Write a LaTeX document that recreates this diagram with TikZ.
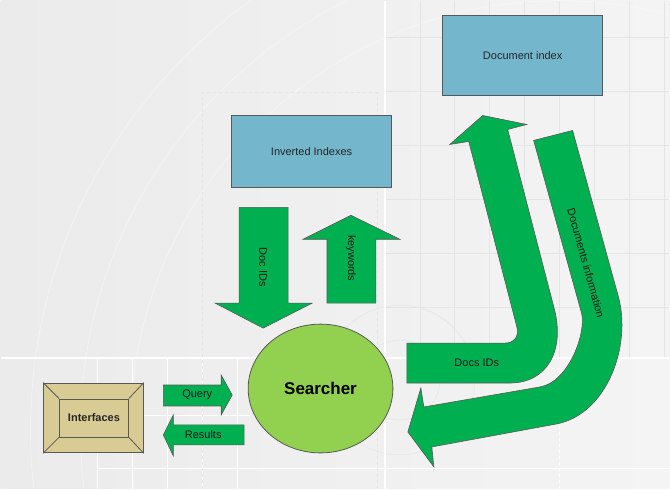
\documentclass[tikz,border=0pt]{standalone}
\usepackage{fontspec}
\setmainfont{Liberation Sans}
\usetikzlibrary{shapes}
\definecolor{boxblue}{RGB}{116,182,204}
\definecolor{flowgreen}{RGB}{0,176,80}
\definecolor{searchgreen}{RGB}{146,208,80}
\definecolor{sand}{RGB}{217,203,148}
\definecolor{edgegray}{RGB}{88,88,88}
\definecolor{bgleft}{RGB}{235,235,235}
\definecolor{bgright}{RGB}{244,244,244}
\definecolor{gridgray}{RGB}{229,229,229}
\newcommand{\txt}{\fontsize{11}{13}\selectfont}
\tikzset{
  store/.style={draw=edgegray, line width=0.9pt, fill=boxblue, font=\txt, text=black!85},
  flow/.style={draw=edgegray, line width=0.6pt, fill=flowgreen},
  flowlabel/.style={font=\txt, text=black!90, inner sep=0pt},
  bevel/.style={draw=edgegray, line width=0.8pt, fill=sand}
}

\begin{document}
\begin{tikzpicture}[x=1pt, y=-1pt]
		% Background
		\shade[left color=bgleft, right color=bgright] (0,0) rectangle (670,489);
		\begin{scope}
			\clip (0,0) rectangle (670,489);
			\foreach \r in {430,480,530}
				\draw[white, opacity=0.5, line width=0.5pt] (560,430) circle (\r);
			\foreach \r in {40,75}
				\draw[gridgray, line width=0.5pt] (400,380) circle (\r);
		\end{scope}
		\foreach \x in {420,455,...,665}
			\draw[gridgray, line width=0.6pt] (\x,0) -- (\x,358);
		\foreach \y in {37,91,145,199,253,307}
			\draw[gridgray, line width=0.6pt] (385,\y) -- (670,\y);
		\draw[white, line width=1.4pt] (385,0) -- (385,489);
		\draw[white, line width=1.2pt] (0,358) -- (670,358);
		\foreach \x in {97,132,167,202,237}
			\draw[white, line width=1pt] (\x,358) -- (\x,489);
		\draw[white, line width=1pt] (97,469) -- (670,469);
		\draw[white, line width=1pt] (143,416) -- (250,416);
		\draw[gridgray, dashed, line width=0.7pt] (202,489) -- (202,92) -- (377,92) -- (377,489);
		\draw[white, dashed, line width=1pt] (420,368) -- (560,368) -- (560,489);

		% Define nodes
		\node[store, minimum width=160, minimum height=80] (docindex) at (523,55) {Document index};
		\node[store, minimum width=161, minimum height=72] (inverted) at (311.5,151) {Inverted Indexes};
		\node[ellipse, draw=edgegray, line width=0.8pt, fill=searchgreen, minimum width=145, minimum height=129,
			font=\fontsize{17}{20}\selectfont\bfseries] (searcher) at (320.5,388.5) {Searcher};
		\node[bevel, minimum width=100, minimum height=70] (iface) at (93,418) {};
		\node[bevel, minimum width=69, minimum height=38, font=\txt\bfseries, text=black!85] (ifacein) at (93.5,418) {Interfaces};

		% Connect the nodes
		\draw[edgegray, line width=0.8pt] (iface.north west) -- (ifacein.north west);
		\draw[edgegray, line width=0.8pt] (iface.north east) -- (ifacein.north east);
		\draw[edgegray, line width=0.8pt] (iface.south west) -- (ifacein.south west);
		\draw[edgegray, line width=0.8pt] (iface.south east) -- (ifacein.south east);

		\draw[flow] (239,207) -- (288,207) -- (288,303) -- (312,303) -- (263,328) -- (215,303) -- (239,303) -- cycle;
		\draw[flow] (327,303) -- (376,303) -- (376,239) -- (400,239) -- (351,215) -- (303,239) -- (327,239) -- cycle;
		\draw[flow] (163,385) -- (221,385) -- (221,375) -- (232,395) -- (221,415) -- (221,406) -- (163,406) -- cycle;
		\draw[flow] (244,425) -- (173,425) -- (173,415) -- (163,435) -- (173,456) -- (173,445) -- (244,445) -- cycle;
		\draw[flow] (407,343) -- (505,343) .. controls (514,343) and (520,337) .. (517,326) -- (469,141)
			-- (450,144) -- (483,115) -- (527,124) -- (508,129) -- (555,310)
			.. controls (565,350) and (548,383) .. (510,383) -- (407,383) -- cycle;
		\draw[flow] (534,140) -- (573,130) -- (619,297) .. controls (632,345) and (608,414) .. (557,424)
			-- (432,447) -- (434,467) -- (408,432) -- (421,388) -- (424,407) -- (540,387)
			.. controls (570,382) and (587,331) .. (582,313) -- cycle;

		% Labels
		\node[flowlabel, rotate=-90] (docids) at (263,267) {Doc IDs};
		\node[flowlabel, rotate=-90] (keywords) at (351,258) {keywords};
		\node[flowlabel] (query) at (197,395) {Query};
		\node[flowlabel] (results) at (203,435) {Results};
		\node[flowlabel] (docsids) at (477,363) {Docs IDs};
		\node[flowlabel, rotate=-74.5] (docsinfo) at (586.5,263) {Documents information};
\end{tikzpicture}
\end{document}
